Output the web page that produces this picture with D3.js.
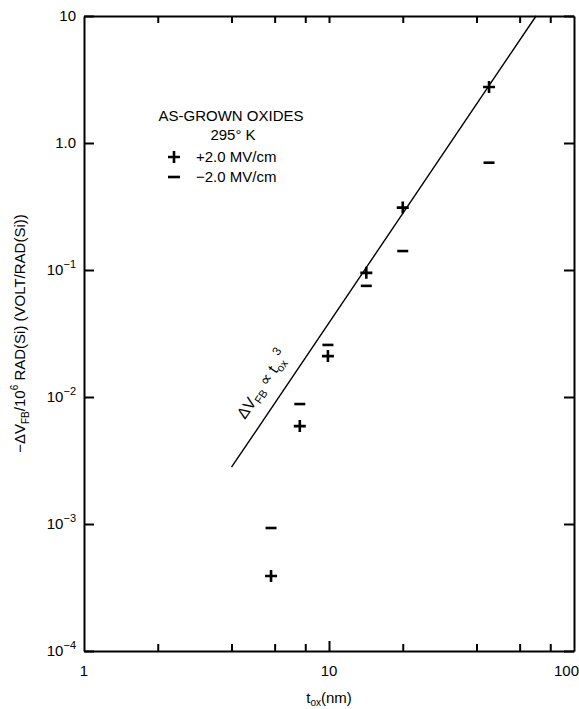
<!DOCTYPE html>
<html>
<head>
<meta charset="utf-8">
<script src="https://cdn.jsdelivr.net/npm/d3@7"></script>
<style>
  body { margin: 0; background: #fff; }
  svg { font-family: "Liberation Sans", Arial, sans-serif; }
  .axis path, .axis line { stroke: #000; stroke-width: 2; }
</style>
</head>
<body>
<script>
// oxide thickness (nm) and flatband shift per Mrad(Si)
var tox = [5.8, 7.6, 9.9, 14.2, 20, 45];
var posField = [0.00039, 0.0059, 0.021, 0.095, 0.31, 2.76];   // +2.0 MV/cm
var negField = [0.00093, 0.0088, 0.0257, 0.075, 0.141, 0.70]; // -2.0 MV/cm

// tox^3 guide line end points
var fitX = [4, 70];
var fitY = [0.0028, 10];

// ticks
var xMinorTicks = [2, 4, 6, 8, 10, 20, 40, 60, 80];
var xLabelTicks = [1, 10, 100];
var yTicks = [1e-4, 1e-3, 1e-2, 1e-1, 1, 10];
var yTickBase = ["10", "10", "10", "10", "1.0", "10"];
var yTickExp = ["\u22124", "\u22123", "\u22122", "\u22121", "", ""];

window.onload = drawChart;

function drawChart(){
    var width = 579,
        height = 709;

    var svg = d3.select("body")
        .append("svg")
        .attr("width", width)
        .attr("height", height);

    //plot frame
    var pLeft = 84, pRight = 574, pTop = 16, pBottom = 651;

    var x = d3.scaleLog().domain([1, 100]).range([pLeft, pRight]);
    var y = d3.scaleLog().domain([1e-4, 10]).range([pBottom, pTop]);

    //bottom axis, ticks pointing in
    var xAxis = svg.append("g")
        .attr("class", "axis")
        .attr("transform", "translate(0," + pBottom + ")")
        .call(d3.axisBottom(x).tickValues(xMinorTicks).tickSizeInner(-7).tickSizeOuter(0).tickFormat(""));
    xAxis.selectAll(".tick line")
        .attr("y2", function(d){ return d == 10 ? -10 : -7; });

    //top axis
    svg.append("g")
        .attr("class", "axis")
        .attr("transform", "translate(0," + pTop + ")")
        .call(d3.axisTop(x).tickValues(xMinorTicks).tickSizeInner(-7).tickSizeOuter(0).tickFormat(""));

    //left axis
    svg.append("g")
        .attr("class", "axis")
        .attr("transform", "translate(" + pLeft + ",0)")
        .call(d3.axisLeft(y).tickValues(yTicks).tickSizeInner(-10).tickSizeOuter(0).tickFormat(""));

    //right axis
    svg.append("g")
        .attr("class", "axis")
        .attr("transform", "translate(" + pRight + ",0)")
        .call(d3.axisRight(y).tickValues(yTicks).tickSizeInner(-10).tickSizeOuter(0).tickFormat(""));

    //x tick labels
    svg.selectAll(".xlab")
        .data(xLabelTicks)
        .enter()
        .append("text")
        .attr("class", "xlab")
        .attr("x", function(d){ return x(d); })
        .attr("y", pBottom + 25)
        .attr("text-anchor", function(d){ return d == 100 ? "end" : "middle"; })
        .attr("dx", function(d){ return d == 100 ? 5 : 0; })
        .attr("font-size", 15)
        .text(function(d){ return d; });

    //y tick labels with superscripts
    var ylab = svg.selectAll(".ylab")
        .data(yTicks)
        .enter()
        .append("text")
        .attr("class", "ylab")
        .attr("x", pLeft - 8)
        .attr("y", function(d){ return y(d) + 5; })
        .attr("text-anchor", "end")
        .attr("font-size", 15);
    ylab.append("tspan")
        .text(function(d, i){ return yTickBase[i]; });
    ylab.append("tspan")
        .attr("dy", -7)
        .attr("font-size", 11)
        .text(function(d, i){ return yTickExp[i]; });

    //axis titles
    var yTitle = svg.append("text")
        .attr("transform", "translate(25," + ((pTop + pBottom) / 2) + ") rotate(-90)")
        .attr("text-anchor", "middle")
        .attr("font-size", 15);
    yTitle.append("tspan").text("\u2212\u0394V");
    yTitle.append("tspan").attr("font-size", 10).attr("dy", 4).text("FB");
    yTitle.append("tspan").attr("dy", -4).text("/10");
    yTitle.append("tspan").attr("font-size", 10).attr("dy", -7).text("6");
    yTitle.append("tspan").attr("dy", 7).text(" RAD(Si) (VOLT/RAD(Si))");

    var xTitle = svg.append("text")
        .attr("x", x(10))
        .attr("y", 703)
        .attr("text-anchor", "middle")
        .attr("font-size", 15);
    xTitle.append("tspan").text("t");
    xTitle.append("tspan").attr("font-size", 10).attr("dy", 3).text("ox");
    xTitle.append("tspan").attr("dy", -3).text("(nm)");

    //guide line
    var line = d3.line()
        .x(function(d){ return x(d[0]); })
        .y(function(d){ return y(d[1]); });
    svg.append("path")
        .datum(d3.zip(fitX, fitY))
        .attr("d", line)
        .attr("fill", "none")
        .attr("stroke", "#000")
        .attr("stroke-width", 1.4);

    //label along the line
    var angle = Math.atan2(y(fitY[1]) - y(fitY[0]), x(fitX[1]) - x(fitX[0])) * 180 / Math.PI;
    var note = svg.append("text")
        .attr("transform", "translate(245,420) rotate(" + angle + ")")
        .attr("font-size", 16);
    note.append("tspan").text("\u0394V");
    note.append("tspan").attr("font-size", 11).attr("dy", 4).text("FB");
    note.append("tspan").attr("dy", -4).text(" \u221D t");
    note.append("tspan").attr("font-size", 11).attr("dy", 4).text("ox");
    note.append("tspan").attr("font-size", 12).attr("dy", -12).text("3");

    //data markers
    svg.selectAll(".plus")
        .data(d3.zip(tox, posField))
        .enter()
        .append("path")
        .attr("class", "plus")
        .attr("d", function(d){ return "M" + (x(d[0]) - 6) + "," + y(d[1]) + "h12M" + x(d[0]) + "," + (y(d[1]) - 6) + "v12"; })
        .attr("stroke", "#000")
        .attr("stroke-width", 2.6);

    svg.selectAll(".minus")
        .data(d3.zip(tox, negField))
        .enter()
        .append("path")
        .attr("class", "minus")
        .attr("d", function(d){ return "M" + (x(d[0]) - 5.5) + "," + y(d[1]) + "h11"; })
        .attr("stroke", "#000")
        .attr("stroke-width", 2.6);

    //legend
    svg.append("text")
        .attr("x", 231).attr("y", 121)
        .attr("text-anchor", "middle")
        .attr("font-size", 15)
        .text("AS-GROWN OXIDES");
    svg.append("text")
        .attr("x", 233).attr("y", 140)
        .attr("text-anchor", "middle")
        .attr("font-size", 15)
        .text("295\u00B0 K");
    svg.append("path")
        .attr("d", "M168,157h12M174,151v12")
        .attr("stroke", "#000")
        .attr("stroke-width", 2.6);
    svg.append("text")
        .attr("x", 196).attr("y", 162)
        .attr("font-size", 15)
        .text("+2.0 MV/cm");
    svg.append("path")
        .attr("d", "M168,177h12")
        .attr("stroke", "#000")
        .attr("stroke-width", 2.6);
    svg.append("text")
        .attr("x", 196).attr("y", 182)
        .attr("font-size", 15)
        .text("\u22122.0 MV/cm");
}
</script>
</body>
</html>
